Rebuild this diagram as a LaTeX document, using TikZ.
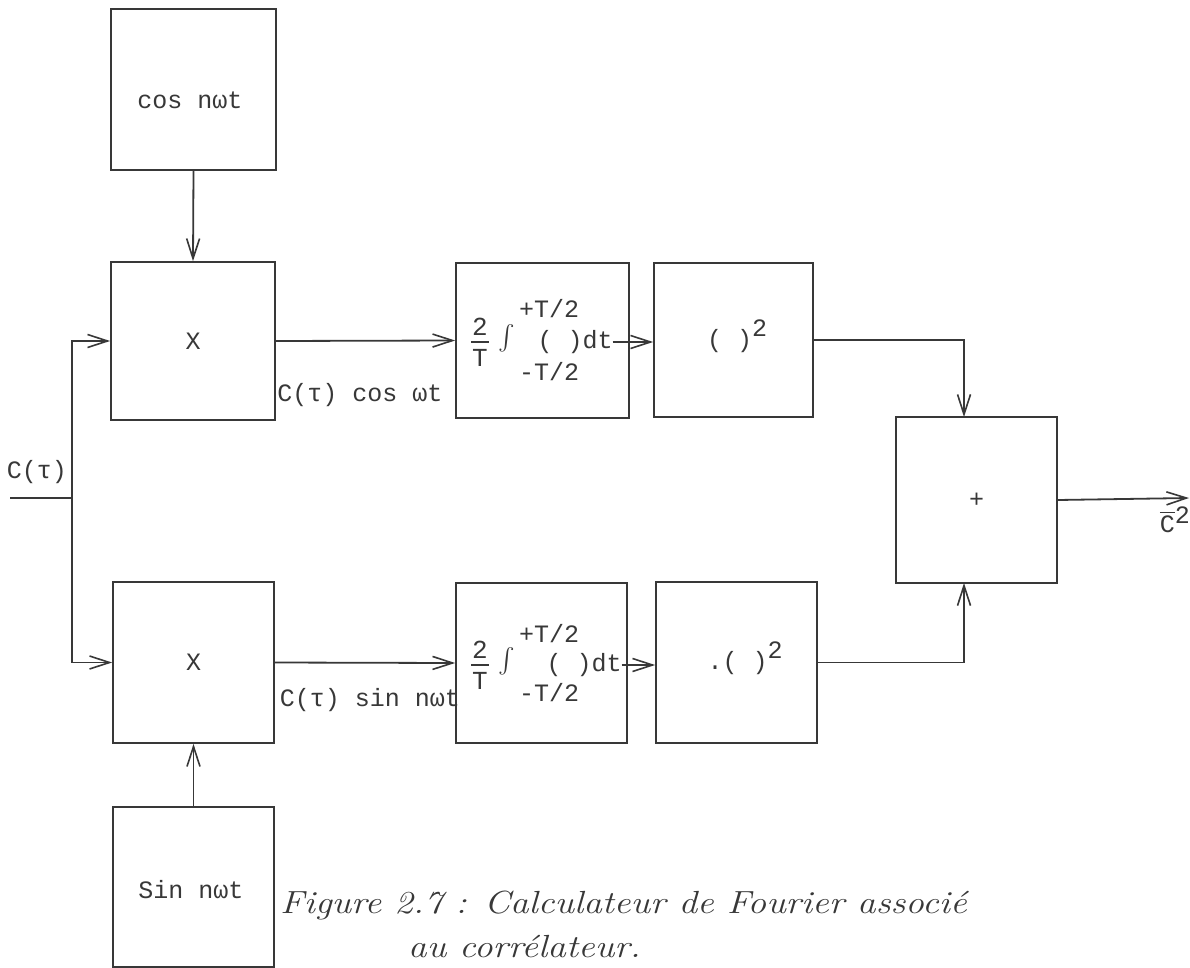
\documentclass[tikz,border=0pt]{standalone}
\usepackage{amsmath}
\usepackage{graphicx}
\usepackage{fontspec}
\setmonofont{Liberation Mono}
\usetikzlibrary{arrows.meta}
\definecolor{ink}{HTML}{383838}

\tikzset{
  blk/.style={draw=ink, line width=1.8pt, inner sep=0pt, text=ink,
    font=\ttfamily\fontsize{25}{28}\selectfont},
  tt/.style={inner sep=0pt, text=ink, font=\ttfamily\fontsize{25}{28}\selectfont},
  wire/.style={draw=ink, line width=1.8pt},
  bar/.style={draw=ink, line width=1.3pt},
  arr/.style={wire, -{Straight Barb[length=20pt,width=13pt,line width=1.6pt]}},
  frac/.style={inner sep=0pt, text=ink, align=center,
    font=\ttfamily\fontsize{26}{31}\selectfont},
  integ/.style={inner sep=0pt, text=ink, font=\fontsize{29}{31}\selectfont},
  captext/.style={inner sep=0pt, text=ink, anchor=west,
    font=\itshape\fontsize{32}{36}\selectfont}
}

\newcommand{\sqr}{\raisebox{11pt}{2}}
\newcommand{\captline}[1]{\scalebox{1.16}[1]{#1}}

\begin{document}
\begin{tikzpicture}[x=1pt,y=-1pt]
\useasboundingbox[fill=white] (0,0) rectangle (1190,968);

% oscillator blocks
\node[blk, minimum width=165pt, minimum height=161pt] (cosb) at (193.5,89.5) {};
\node[tt] (coslbl) at (190,100) {cos nωt};
\node[blk, minimum width=161pt, minimum height=160pt] (sinb) at (193.5,887) {};
\node[tt] (sinlbl) at (191,890) {Sin nωt};

% multipliers
\node[blk, minimum width=164pt, minimum height=158pt] (mul1) at (193,341) {X};
\node[blk, minimum width=161pt, minimum height=161pt] (mul2) at (193.5,662.5) {X};

% integrators
\node[blk, minimum width=173pt, minimum height=155pt] (int1) at (542.5,340.5) {};
\node[blk, minimum width=171pt, minimum height=160pt] (int2) at (541.5,663) {};

% squarers
\node[blk, minimum width=159pt, minimum height=154pt] (sq1) at (733.5,340) {};
\node[blk, minimum width=161pt, minimum height=161pt] (sq2) at (736.5,662.5) {};

% summer
\node[blk, minimum width=161pt, minimum height=166pt] (sum) at (976.5,500) {+};

% integrator contents, upper branch
\node[frac] (fr1) at (480,342) {2\\T};
\draw[bar] ([xshift=-1pt]fr1.west) -- ([xshift=1pt]fr1.east);
\node[integ] (in1) at (507,338) {$\int$};
\node[tt] (up1) at (549,309) {+T/2};
\node[tt] (bd1) at (575,342) {( )dt};
\node[tt] (lo1) at (549,372) {-T/2};

% integrator contents, lower branch
\node[frac] (fr2) at (480,665) {2\\T};
\draw[bar] ([xshift=-1pt]fr2.west) -- ([xshift=1pt]fr2.east);
\node[integ] (in2) at (507,661) {$\int$};
\node[tt] (up2) at (549,634) {+T/2};
\node[tt] (bd2) at (584,665) {(  )dt};
\node[tt] (lo2) at (549,693) {-T/2};

% squarer contents
\node[tt] (sqt1) at (737,336) {( )\sqr};
\node[tt] (sqt2) at (745,658) {.(  )\sqr};

% signal labels
\node[tt] (cin) at (37,472) {C(τ)};
\node[tt] (lab1) at (360,395) {C(τ) cos ωt};
\node[tt] (lab2) at (370,700) {C(τ) sin nωt};
\node[tt, anchor=east] (cout) at (1190,520) {$\overline{\texttt{C}}$\raisebox{9pt}{2}};

% input distribution
\coordinate (src) at (10,498);
\coordinate (tap) at (72,498);
\draw[wire] (src) -- (tap);
\draw[arr] (tap) |- (mul1.west);
\draw[arr] (tap) |- (mul2.west);

% oscillator feeds
\draw[arr] (cosb.south) -- (mul1.north);
\draw[arr] (sinb.north) -- (mul2.south);

% forward path
\draw[arr] (mul1.east) -- (int1.west);
\draw[arr] (mul2.east) -- (int2.west);
\draw[arr] (bd1.east) -- (bd1.east -| sq1.west);
\draw[arr] (bd2.east) -- (bd2.east -| sq2.west);

% into the summer
\coordinate (sumtop) at (964,417);
\coordinate (sumbot) at (964,583);
\draw[arr] (sq1.east) -| (sumtop);
\draw[arr] (sq2.east) -| (sumbot);

% output
\coordinate (out) at (1189,498);
\draw[arr] (sum.east) -- (out);

% caption
\node[captext] (cap1) at (280,905) {\captline{Figure 2.7 : Calculateur de Fourier associé}};
\node[captext] (cap2) at (408,947) {\captline{au corrélateur.}};
\end{tikzpicture}
\end{document}
